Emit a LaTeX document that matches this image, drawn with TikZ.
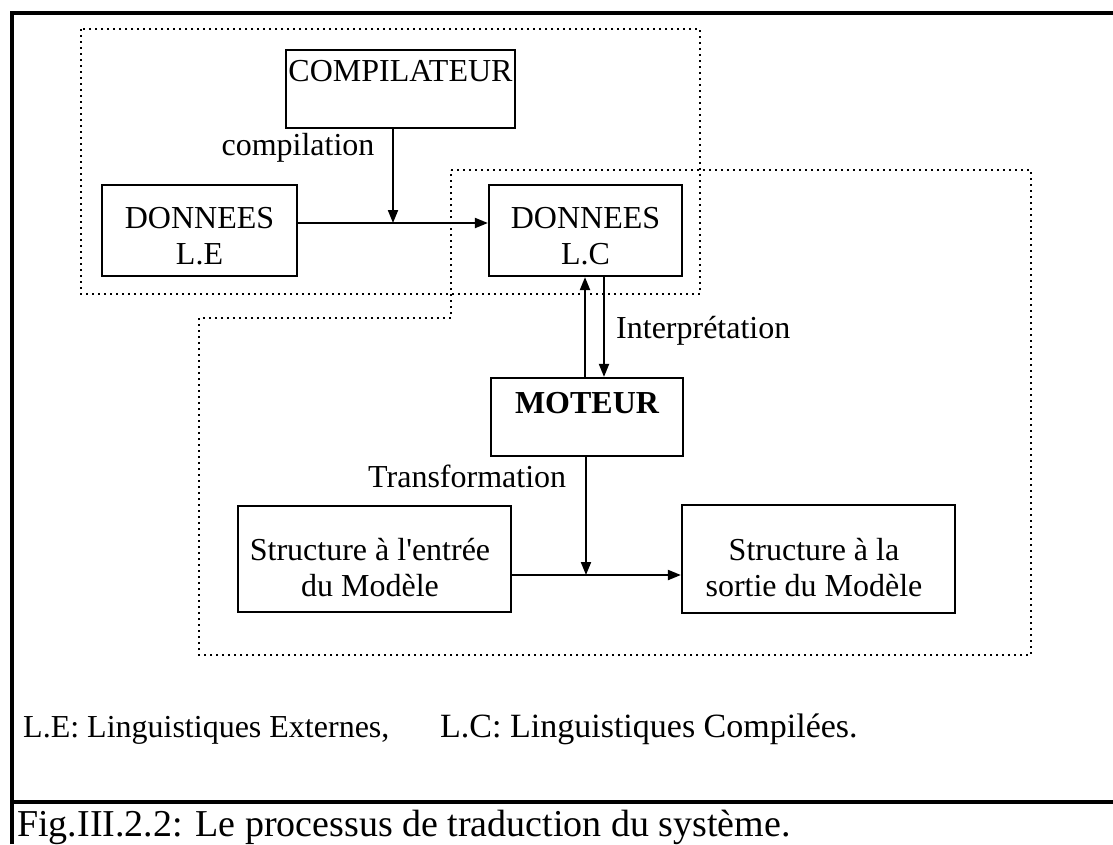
\documentclass[tikz,border=0pt]{standalone}
\usepackage{fontspec}
\setmainfont{Liberation Serif}
\newfontfamily\plainrm{Liberation Serif}
\usetikzlibrary{arrows.meta}
\begin{document}
\begin{tikzpicture}[x=1pt,y=-1pt,
  box/.style={draw,line width=2.2pt,inner sep=0pt},
  txt/.style={inner sep=0pt,align=center,font=\fontsize{32}{36}\selectfont},
  dots/.style={line width=1.7pt,dash pattern=on 1.7pt off 4.3pt},
  arr/.style={line width=2pt,-{Triangle[length=13pt,width=10pt]}},
  frameline/.style={line width=3.5pt}]
\useasboundingbox (0,0) rectangle (1113,844);
% outer frame
\draw[frameline] (12,844) -- (12,13) -- (1113,13);
\draw[frameline] (12,802) -- (1113,802);
% dotted groups
\draw[dots] (81,29) rectangle (700,294);
\draw[dots] (451,170) -- (1031,170) -- (1031,655) -- (199,655) -- (199,318) -- (451,318) -- cycle;
% boxes
\node[box,minimum width=229pt,minimum height=78pt] (compil) at (400.5,89) {};
\node[box,minimum width=195pt,minimum height=91pt] (le) at (199.5,230.5) {};
\node[box,minimum width=193pt,minimum height=91pt] (lc) at (585.5,230.5) {};
\node[box,minimum width=192pt,minimum height=78pt] (mot) at (587,417) {};
\node[box,minimum width=273pt,minimum height=106pt] (s1) at (374.5,559) {};
\node[box,minimum width=273pt,minimum height=108pt] (s2) at (818.5,559) {};
% texts in boxes
\node[txt,anchor=base] (compilT) at (400.5,81) {COMPILATEUR};
\node[txt] (leT) at (199.5,236.5) {DONNEES\\L.E};
\node[txt] (lcT) at (585.5,236.5) {DONNEES\\L.C};
\node[txt,anchor=base,font=\fontsize{32}{36}\selectfont\bfseries] (motT) at (587,413) {MOTEUR};
\node[txt] (s1T) at (370,567.5) {Structure à l{\plainrm '}entrée\\du Modèle};
\node[txt] (s2T) at (814,567.5) {Structure à la\\sortie du Modèle};
% connector labels
\node[txt,anchor=base] (compL) at (298,155) {compilation};
\node[txt,anchor=base west] (interL) at (616,338) {Interprétation};
\node[txt,anchor=base west] (transL) at (368,487) {Transformation};
% connectors
\coordinate (j1) at (393,223);
\draw[arr] (compil.south -| j1) -- (j1);
\draw[arr] (le.east |- j1) -- (lc.west |- j1);
\coordinate (iu) at (585,0);
\coordinate (id) at (604,0);
\draw[arr] (mot.north -| iu) -- (lc.south -| iu);
\draw[arr] (lc.south -| id) -- (mot.north -| id);
\coordinate (j2) at (586,575);
\draw[arr] (mot.south -| j2) -- (j2);
\draw[arr] (s1.east |- j2) -- (s2.west |- j2);
% legend and caption
\node[txt,anchor=base west] (leg1) at (23,737) {L.E: Linguistiques Externes,};
\node[txt,anchor=base west,font=\fontsize{34}{38}\selectfont] (leg2) at (440,737) {L.C: Linguistiques Compilées.};
\node[txt,anchor=base west,font=\fontsize{38}{42}\selectfont] (cap) at (17,836) {Fig.III.2.2: Le processus de traduction du système.};
\end{tikzpicture}
\end{document}
